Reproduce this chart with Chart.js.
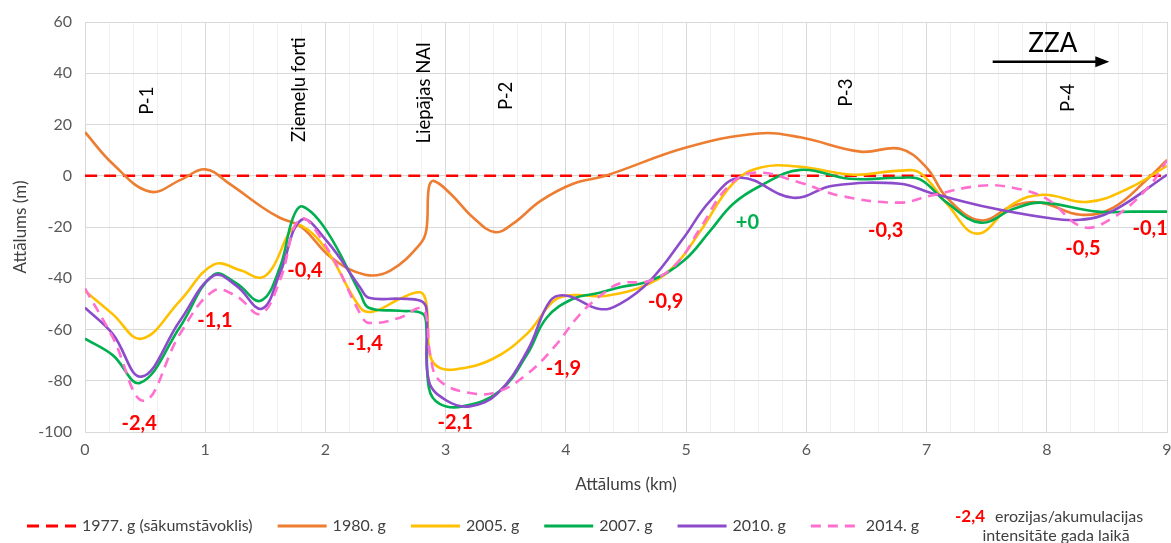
<!DOCTYPE html>
<html>
<head>
<meta charset="utf-8">
<script src="https://cdn.jsdelivr.net/npm/chart.js@4.4.0/dist/chart.umd.min.js"></script>
<style>
  html, body { margin: 0; padding: 0; background: #fff; }
  #wrap { width: 1171px; height: 543px; position: relative; }
</style>
</head>
<body>
<div id="wrap"><canvas id="chart"></canvas></div>
<script>
// Krasta līnijas stāvoklis (m) attiecībā pret 1977. g, gar krastu (km)
const km1977 = [0, 9];
const m1977 = [0, 0];

const km1980 = [0, 0.23, 0.54, 0.8, 1.0, 1.2, 1.48, 1.62, 1.8, 2.05, 2.33, 2.54, 2.79, 2.84, 2.86, 2.9, 3.04, 3.23, 3.41, 3.56, 3.79, 4.06, 4.33, 5.0, 5.6, 5.95, 6.45, 6.78, 7.0, 7.17, 7.45, 7.72, 7.95, 8.28, 8.55, 8.84, 9.0];
const m1980 = [17, 4.7, -6.2, -1.5, 2.5, -3.1, -12.5, -16.4, -20, -32, -38.6, -37, -26.5, -21, -4.6, -2, -7, -16.4, -22, -18.7, -9.8, -3.1, 0, 11, 16.5, 15, 9.4, 10.5, 3.2, -8.6, -17.4, -11.7, -10.5, -15.2, -12.5, -1.2, 6.2];

const km2005 = [0, 0.23, 0.47, 0.79, 1.07, 1.3, 1.46, 1.56, 1.71, 1.8, 2.01, 2.29, 2.4, 2.62, 2.79, 2.84, 2.87, 2.95, 3.09, 3.39, 3.68, 3.9, 4.06, 4.34, 4.7, 4.92, 5.12, 5.39, 5.62, 5.95, 6.39, 6.78, 6.95, 7.17, 7.42, 7.72, 7.97, 8.34, 8.69, 9.0];
const m2005 = [-45, -54, -63.6, -48.8, -34.7, -37, -39.8, -35.9, -21.5, -19.5, -29, -51.5, -53, -48, -45.5, -50, -70, -75, -75.5, -71.5, -61.5, -48.8, -46.6, -46.8, -42, -34.3, -21.5, -3, 3.2, 3.5, 0.4, 2, 1, -11, -22.6, -11, -7.4, -10.2, -4.7, 3.9];

const km2007 = [0, 0.23, 0.46, 0.79, 1.07, 1.26, 1.46, 1.62, 1.73, 1.81, 2.01, 2.29, 2.36, 2.62, 2.81, 2.84, 2.86, 2.95, 3.14, 3.45, 3.68, 3.84, 4.06, 4.28, 4.45, 4.7, 4.98, 5.2, 5.39, 5.62, 5.95, 6.36, 6.78, 6.95, 7.17, 7.45, 7.72, 7.95, 8.42, 8.7, 9.0];
const m2007 = [-63.6, -70, -80.8, -59, -38.6, -42, -48.8, -35.9, -16.4, -12, -21.5, -46, -51.5, -52.7, -53.9, -60, -82.7, -89, -90, -84, -69.5, -55.4, -48, -45.7, -43.5, -41, -33.2, -21.5, -11, -3.9, 2.3, -1.2, -0.8, -1.5, -10.5, -18.3, -13, -10.5, -14, -14, -14];

const km2010 = [0, 0.23, 0.47, 0.79, 1.07, 1.26, 1.47, 1.62, 1.8, 2.01, 2.29, 2.36, 2.62, 2.79, 2.84, 2.86, 3.01, 3.2, 3.43, 3.68, 3.87, 4.01, 4.28, 4.45, 4.7, 4.98, 5.2, 5.45, 5.89, 6.22, 6.78, 7.03, 7.45, 8.0, 8.28, 8.55, 9.0];
const m2010 = [-51.5, -61.7, -78.4, -56.6, -39, -43, -51.9, -38.2, -17.2, -25.4, -43.7, -47.6, -48, -48.8, -52, -80, -87.8, -90, -85, -68.3, -48.8, -46.8, -52, -50, -41, -24.2, -9.8, -0.8, -8.6, -3.9, -3.1, -6.6, -11.7, -16.4, -17.2, -13.7, 0.4];

const km2014 = [0, 0.23, 0.49, 0.79, 1.07, 1.26, 1.46, 1.62, 1.79, 2.01, 2.29, 2.36, 2.62, 2.79, 2.84, 2.87, 2.95, 3.23, 3.45, 3.68, 3.9, 4.12, 4.31, 4.45, 4.7, 4.92, 5.12, 5.34, 5.56, 5.95, 6.28, 6.78, 7.03, 7.45, 7.72, 8.0, 8.3, 8.55, 8.84, 9.0];
const m2014 = [-44, -63, -87.8, -61.7, -44.9, -47, -53.9, -41, -16.8, -28, -53.9, -57.4, -55.4, -51.5, -55, -69.5, -80, -85, -84, -77.3, -67, -53.9, -46, -42, -41, -34.3, -20.3, -4.7, 1.2, -2.7, -7.8, -10.5, -7.8, -3.9, -4.7, -9, -20, -16.4, -4.7, 6];

// erozijas/akumulācijas intensitāte (m/gadā) un tās vieta grafikā
const rateText = ['-2,4', '-1,1', '-0,4', '-1,4', '-2,1', '-1,9', '-0,9', '+0', '-0,3', '-0,5', '-0,1'];
const rateKm = [0.45, 1.08, 1.83, 2.33, 3.08, 3.98, 4.83, 5.51, 6.66, 8.3, 8.86];
const rateM = [-96.8, -56.6, -37, -65.6, -96.4, -75.3, -49.2, -18.3, -21.5, -28.5, -20.7];

// vietu nosaukumi
const placeText = ['P-1', 'Ziemeļu forti', 'Liepājas NAI', 'P-2', 'P-3', 'P-4'];
const placeKm = [0.52, 1.78, 2.82, 3.5, 6.33, 8.18];
const placeM = [29.3, 33.6, 32.4, 31.2, 32.4, 30.4];

const FONT = 'Lato, "Open Sans", sans-serif';
Chart.defaults.font.family = FONT;

function series(label, kms, ms, color, dash, order) {
    return {
        label: label,
        data: kms.map((x, i) => ({ x: x, y: ms[i] })),
        borderColor: color,
        backgroundColor: color,
        borderWidth: 2.6,
        borderDash: dash,
        pointRadius: 0,
        showLine: true,
        tension: 0.4,
        fill: false,
        order: order
    };
}

const datasets = [
    series('1977. g (sākumstāvoklis)', km1977, m1977, '#FF0000', [12, 7], 6),
    series('1980. g', km1980, m1980, '#ED7D31', [], 5),
    series('2005. g', km2005, m2005, '#FFC000', [], 4),
    series('2007. g', km2007, m2007, '#00B050', [], 3),
    series('2010. g', km2010, m2010, '#8C4BCB', [], 2),
    series('2014. g', km2014, m2014, '#FF6FCF', [10, 7], 1)
];

function isWhole(v) {
    return Math.abs(v - Math.round(v)) < 1e-6;
}

// teksti grafikā: intensitātes, vietas, ZZA bulta
const textPlugin = {
    id: 'texts',
    afterDatasetsDraw(chart) {
        const ctx = chart.ctx;
        const xs = chart.scales.x, ys = chart.scales.y;
        ctx.save();
        ctx.textAlign = 'center';
        ctx.textBaseline = 'middle';

        ctx.font = 'bold 20px ' + FONT;
        rateText.forEach((t, i) => {
            ctx.fillStyle = t === '+0' ? '#00B050' : '#FF0000';
            ctx.fillText(t, xs.getPixelForValue(rateKm[i]), ys.getPixelForValue(rateM[i]));
        });

        ctx.font = '18.5px ' + FONT;
        ctx.fillStyle = '#000';
        placeText.forEach((t, i) => {
            ctx.save();
            ctx.translate(xs.getPixelForValue(placeKm[i]), ys.getPixelForValue(placeM[i]));
            ctx.rotate(-Math.PI / 2);
            ctx.fillText(t, 0, 0);
            ctx.restore();
        });

        // ZZA virziens
        ctx.font = '26px ' + FONT;
        ctx.fillText('ZZA', xs.getPixelForValue(8.05), ys.getPixelForValue(51.5));
        const ay = ys.getPixelForValue(44.5);
        const ax0 = xs.getPixelForValue(7.55), ax1 = xs.getPixelForValue(8.52);
        ctx.strokeStyle = '#000';
        ctx.lineWidth = 2.5;
        ctx.beginPath();
        ctx.moveTo(ax0, ay);
        ctx.lineTo(ax1 - 10, ay);
        ctx.stroke();
        ctx.beginPath();
        ctx.moveTo(ax1, ay);
        ctx.lineTo(ax1 - 14, ay - 5.5);
        ctx.lineTo(ax1 - 14, ay + 5.5);
        ctx.closePath();
        ctx.fill();
        ctx.restore();
    }
};

// leģenda apakšā
const legendPlugin = {
    id: 'bottomLegend',
    afterDraw(chart) {
        const ctx = chart.ctx;
        ctx.save();
        ctx.textBaseline = 'middle';
        ctx.textAlign = 'left';
        ctx.font = '16px ' + FONT;
        let x = 27;
        const y = 526;
        chart.data.datasets.forEach(ds => {
            ctx.strokeStyle = ds.borderColor;
            ctx.lineWidth = 3;
            ctx.setLineDash(ds.borderDash || []);
            ctx.beginPath();
            ctx.moveTo(x, y);
            ctx.lineTo(x + 49, y);
            ctx.stroke();
            ctx.setLineDash([]);
            x += 55;
            ctx.fillStyle = '#404040';
            ctx.fillText(ds.label, x, y);
            x += ctx.measureText(ds.label).width + 25;
        });

        ctx.font = 'bold 17px ' + FONT;
        ctx.fillStyle = '#FF0000';
        ctx.fillText(rateText[0], 955, 517);
        ctx.font = '16px ' + FONT;
        ctx.fillStyle = '#404040';
        ctx.fillText('erozijas/akumulacijas', 995, 517);
        ctx.textAlign = 'center';
        ctx.fillText('intensitāte gada laikā', 1056, 536);
        ctx.restore();
    }
};

new Chart(document.getElementById('chart').getContext('2d'), {
    type: 'scatter',
    data: { datasets: datasets },
    options: {
        responsive: true,
        maintainAspectRatio: false,
        animation: false,
        layout: { padding: { top: 22, right: 4, left: 0, bottom: 0 } },
        plugins: {
            legend: { display: false },
            tooltip: { enabled: false }
        },
        scales: {
            x: {
                type: 'linear',
                min: 0,
                max: 9,
                afterFit: function (scale) {
                    scale.height = 111;
                    scale.paddingLeft = 0;
                    scale.paddingRight = 0;
                },
                ticks: {
                    stepSize: 0.2,
                    autoSkip: false,
                    maxRotation: 0,
                    padding: 8,
                    color: '#595959',
                    font: { size: 16 },
                    callback: function (v) { return isWhole(v) ? Math.round(v) : ''; }
                },
                grid: {
                    drawTicks: false,
                    lineWidth: 1,
                    color: function (c) {
                        return c.tick && isWhole(c.tick.value) ? '#D9D9D9' : '#F0F0F0';
                    }
                },
                border: { color: '#D9D9D9' },
                title: {
                    display: true,
                    text: 'Attālums (km)',
                    color: '#404040',
                    font: { size: 17 },
                    padding: { top: 0, bottom: 48 }
                }
            },
            y: {
                min: -100,
                max: 60,
                afterFit: function (scale) {
                    scale.width = 85;
                    scale.paddingTop = 0;
                    scale.paddingBottom = 0;
                },
                ticks: {
                    stepSize: 20,
                    padding: 13,
                    color: '#595959',
                    font: { size: 16 }
                },
                grid: { drawTicks: false, color: '#D9D9D9' },
                border: { color: '#D9D9D9' },
                title: {
                    display: true,
                    text: 'Attālums (m)',
                    color: '#404040',
                    font: { size: 17 },
                    padding: { top: 10, bottom: 0 }
                }
            }
        }
    },
    plugins: [textPlugin, legendPlugin]
});
</script>
</body>
</html>
